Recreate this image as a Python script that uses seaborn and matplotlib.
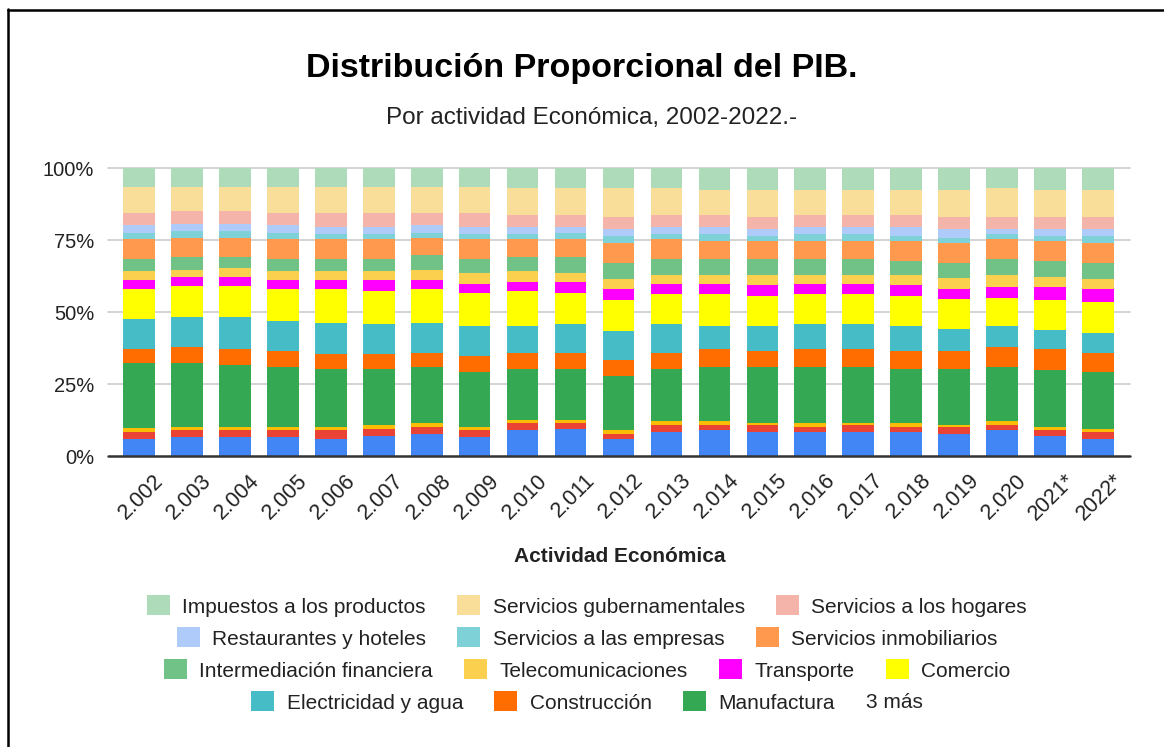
import matplotlib
matplotlib.use('Agg')
import matplotlib.pyplot as plt
import matplotlib.transforms as mtransforms
from matplotlib.lines import Line2D
from matplotlib.patches import Patch
import pandas as pd
import seaborn as sns

# -- Data (share of GDP, %) ---------------------------------------------------
years = ['2.002', '2.003', '2.004', '2.005', '2.006', '2.007', '2.008',
         '2.009', '2.010', '2.011', '2.012', '2.013', '2.014', '2.015',
         '2.016', '2.017', '2.018', '2.019', '2.020', '2021*', '2022*']

# bottom -> top of the stack
agropecuario = [5.8, 6.5, 6.5, 6.5, 5.8, 7.1, 7.6, 6.5, 8.9, 9.5, 5.8,
                8.3, 8.9, 8.3, 8.3, 8.3, 8.3, 7.6, 8.9, 7.1, 5.8]
mineria = [2.4, 2.4, 2.4, 2.4, 3.1, 2.4, 2.6, 2.4, 2.4, 1.8, 1.8,
           2.5, 1.9, 2.5, 1.9, 2.5, 1.9, 2.6, 1.9, 1.8, 2.5]
pesca = [1.4, 1.3, 1.3, 1.3, 1.3, 1.3, 1.1, 1.3, 1.3, 1.3, 1.3,
         1.2, 1.2, 0.6, 1.1, 0.6, 1.1, 0.7, 1.2, 1.3, 1.2]
manufactura = [22.6, 22.0, 21.4, 20.7, 20.1, 19.5, 19.6, 19.0, 17.7, 17.7, 19.0,
               18.3, 18.9, 19.6, 19.6, 19.6, 19.0, 19.5, 18.9, 19.5, 19.7]
construccion = [5.0, 5.5, 5.6, 5.6, 5.0, 5.0, 5.0, 5.5, 5.6, 5.6, 5.5,
                5.6, 6.3, 5.6, 6.3, 6.3, 6.2, 6.2, 6.8, 7.5, 6.7]
electricidad = [10.4, 10.4, 10.9, 10.4, 11.0, 10.4, 10.4, 10.4, 9.2, 9.8, 9.9,
                9.8, 7.9, 8.6, 8.5, 8.5, 8.6, 7.4, 7.4, 6.7, 6.7]
comercio = [10.4, 11.0, 11.0, 11.1, 11.7, 11.6, 11.7, 11.6, 12.2, 11.0, 11.0,
            10.4, 11.0, 10.5, 10.4, 10.4, 10.5, 10.4, 9.8, 10.4, 11.0]
transporte = [3.1, 3.2, 3.2, 3.1, 3.1, 3.8, 3.1, 3.1, 3.1, 3.7, 3.7,
              3.7, 3.7, 3.7, 3.7, 3.7, 3.7, 3.7, 3.7, 4.3, 4.4]
telecom = [3.0, 2.4, 3.1, 3.0, 3.0, 3.0, 3.6, 3.6, 3.7, 3.0, 3.6,
           3.0, 3.0, 3.5, 3.0, 3.0, 3.5, 3.6, 4.2, 3.7, 3.6]
intermediacion = [4.3, 4.3, 3.6, 4.3, 4.3, 4.3, 5.0, 5.0, 4.9, 5.6, 5.5,
                  5.6, 5.6, 5.6, 5.6, 5.6, 5.0, 5.5, 5.6, 5.5, 5.5]
inmobiliarios = [6.8, 6.8, 6.8, 6.8, 6.8, 6.8, 6.1, 6.8, 6.2, 6.2, 6.9,
                 6.8, 6.3, 6.3, 6.3, 6.3, 6.9, 6.9, 6.8, 6.9, 6.9]
empresas = [2.3, 2.3, 2.3, 2.3, 1.9, 1.9, 1.7, 1.9, 1.9, 2.3, 2.4,
            1.9, 2.4, 1.7, 2.4, 2.4, 1.7, 1.8, 1.9, 1.7, 2.4]
restaurantes = [2.6, 2.6, 2.6, 2.6, 2.3, 2.3, 2.6, 2.3, 2.3, 1.9, 2.4,
                2.3, 2.3, 2.4, 2.3, 2.3, 3.0, 3.0, 1.7, 2.4, 2.4]
hogares = [4.3, 4.3, 4.3, 4.3, 5.0, 5.0, 4.3, 5.0, 4.3, 4.3, 4.3,
           4.3, 4.3, 4.3, 4.3, 4.3, 4.3, 4.3, 4.3, 4.3, 4.3]
gubernamentales = [9.1, 8.5, 8.5, 9.1, 9.1, 9.1, 9.1, 9.1, 9.2, 9.2, 9.8,
                   9.2, 8.7, 9.3, 8.7, 8.7, 8.7, 9.3, 9.8, 9.3, 9.3]
impuestos = [6.5, 6.5, 6.5, 6.5, 6.5, 6.5, 6.5, 6.5, 7.1, 7.1, 7.1,
             7.1, 7.6, 7.6, 7.6, 7.6, 7.6, 7.6, 7.1, 7.6, 7.6]

sector_names = ['Agropecuario', 'Minería', 'Pesca', 'Manufactura', 'Construcción',
                'Electricidad y agua', 'Comercio', 'Transporte', 'Telecomunicaciones',
                'Intermediación financiera', 'Servicios inmobiliarios',
                'Servicios a las empresas', 'Restaurantes y hoteles',
                'Servicios a los hogares', 'Servicios gubernamentales',
                'Impuestos a los productos']
sector_values = [agropecuario, mineria, pesca, manufactura, construccion, electricidad,
                 comercio, transporte, telecom, intermediacion, inmobiliarios, empresas,
                 restaurantes, hogares, gubernamentales, impuestos]
sector_colors = ['#4285F4', '#EA4335', '#FBBC04', '#34A853', '#FF6D01', '#46BDC6',
                 '#FFFF00', '#FF00FF', '#FCD04F', '#71C287', '#FF994D', '#7ED1D7',
                 '#AECBFA', '#F4B4AA', '#F8DE98', '#AEDCBA']

# legend rows as laid out in the reference (top of stack first)
legend_rows = [
    ['Impuestos a los productos', 'Servicios gubernamentales', 'Servicios a los hogares'],
    ['Restaurantes y hoteles', 'Servicios a las empresas', 'Servicios inmobiliarios'],
    ['Intermediación financiera', 'Telecomunicaciones', 'Transporte', 'Comercio'],
    ['Electricidad y agua', 'Construcción', 'Manufactura'],
]

# -- Prepare ------------------------------------------------------------------
df = pd.DataFrame(dict(zip(sector_names, sector_values)), index=years)
df = df.div(df.sum(axis=1), axis=0) * 100
cum = df.cumsum(axis=1)
color_of = dict(zip(sector_names, sector_colors))

sns.set_style('white')
plt.rcParams['font.family'] = ['Liberation Sans', 'DejaVu Sans']
TXT = '#222222'

W, H = 1164, 747
fig = plt.figure(figsize=(W / 100, H / 100), dpi=100)
ax_left, ax_right, ax_top, ax_bottom = 108, 1130, 168, 456
ax = fig.add_axes([ax_left / W, 1 - ax_bottom / H,
                   (ax_right - ax_left) / W, (ax_bottom - ax_top) / H])

# stacked bars: draw cumulative totals from the top of the stack down
for name in reversed(sector_names):
    plot_df = pd.DataFrame({'year': years, 'value': cum[name].values})
    sns.barplot(data=plot_df, x='year', y='value', order=years, color=color_of[name],
                saturation=1, width=0.66, linewidth=0, errorbar=None, ax=ax)

# -- Axes styling -------------------------------------------------------------
ax.set_xlim(-0.646, 20.667)
ax.set_ylim(0, 100)
for v in [25, 50, 75, 100]:
    ax.axhline(v, color='#cccccc', lw=1.2, zorder=0, clip_on=False)
ax.axhline(0, color='#333333', lw=1.8, zorder=5, clip_on=False)
for s in ax.spines.values():
    s.set_visible(False)

ax.set_yticks([0, 25, 50, 75, 100])
ax.set_yticklabels(['0%', '25%', '50%', '75%', '100%'], fontsize=14.5, color=TXT)
ax.tick_params(axis='y', length=0, pad=10)
ax.tick_params(axis='x', length=0, pad=0)
ax.set_xticks(range(len(years)))
ax.set_xticklabels(years, rotation=45, ha='right', va='top', rotation_mode='anchor',
                   fontsize=15.5, color=TXT)
offset = mtransforms.ScaledTranslation(14 / 100, -14 / 100, fig.dpi_scale_trans)
for lbl in ax.get_xticklabels():
    lbl.set_transform(lbl.get_transform() + offset)
ax.set_xlabel('')
ax.set_ylabel('')

# -- Titles -------------------------------------------------------------------
fig.text(0.5, 1 - 68 / H, 'Distribución Proporcional del PIB.', ha='center', va='center',
         fontsize=24.5, fontweight='bold', color='#000000')
fig.text(0.508, 1 - 118 / H, 'Por actividad Económica, 2002-2022.-', ha='center',
         va='center', fontsize=17.5, color=TXT)
fig.text(620 / W, 1 - 557 / H, 'Actividad Económica', ha='center', va='center',
         fontsize=15, fontweight='bold', color=TXT)

# -- Legend (one row per legend) ---------------------------------------------
row_y = [606, 638, 670, 702]
leg_kw = dict(frameon=False, fontsize=15, handlelength=1.1, handleheight=1.1,
              handletextpad=0.6, columnspacing=1.5, borderpad=0, borderaxespad=0,
              labelcolor=TXT)
for i, row in enumerate(legend_rows):
    handles = [Patch(facecolor=color_of[n], edgecolor='none') for n in row]
    if i < 3:
        fig.legend(handles, row, loc='center', bbox_to_anchor=(587 / W, 1 - row_y[i] / H),
                   ncol=len(row), **leg_kw)
    else:
        fig.legend(handles, row, loc='center right',
                   bbox_to_anchor=(835 / W, 1 - row_y[i] / H), ncol=len(row), **leg_kw)
        fig.text(866 / W, 1 - row_y[i] / H, '3 más', ha='left', va='center',
                 fontsize=15, color=TXT)

# -- Frame (left and top edges only, as in the reference) ---------------------
fig.add_artist(Line2D([8 / W, 8 / W], [0, 1 - 9 / H], color='black', lw=1.8,
                      transform=fig.transFigure))
fig.add_artist(Line2D([8 / W, 1], [1 - 9.5 / H, 1 - 9.5 / H], color='black', lw=1.8,
                      transform=fig.transFigure))

fig.savefig('out.png', dpi=100, facecolor='white')
plt.close(fig)
